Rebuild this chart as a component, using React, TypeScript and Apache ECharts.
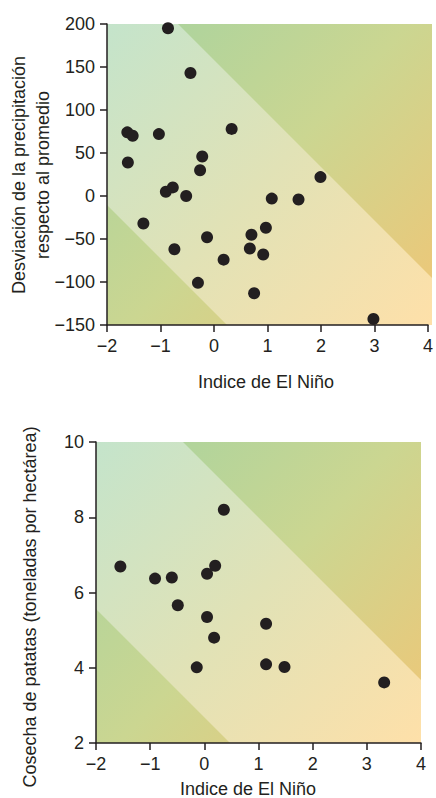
import React, { useEffect, useRef } from "react";
import * as echarts from "echarts";

// ---- Data ----
const precipNino = [-0.86, -0.44, -1.62, -1.52, -1.03, 0.33, -1.61, -0.22, -0.26, 1.99, -0.9, -0.77, -0.52, 1.08, 1.58, -1.32, -0.13, -0.74, 0.7, 0.97, 0.67, 0.92, 0.18, -0.3, 0.75, 2.98];
const precipDev = [195, 143, 74, 70, 72, 78, 39, 46, 30, 22, 5, 10, 0, -3, -4, -32, -48, -62, -45, -37, -61, -68, -74, -101, -113, -143];

const potatoNino = [-1.55, -0.91, -0.6, 0.05, 0.2, 0.36, -0.49, 0.05, 1.14, 0.18, -0.14, 1.14, 1.48, 3.32];
const potatoYield = [6.69, 6.37, 6.4, 6.5, 6.71, 8.2, 5.66, 5.35, 5.17, 4.8, 4.01, 4.09, 4.02, 3.61];

const xTitle = "Indice de El Niño";
const yTitleTop = "Desviación de la precipitación\nrespecto al promedio";
const yTitleBottom = "Cosecha de patatas (toneladas por hectárea)";

const FONT = "'Liberation Sans', Arial, Helvetica, sans-serif";
const INK = "#231f20";

const grids = [
  { left: 107, top: 24, width: 325, height: 301, upper: 71, lower: 181 },
  { left: 96, top: 442, width: 325, height: 301, upper: 87, lower: 167 },
];

const fmt = (v: number) => String(v).replace("-", "\u2212");

function bandGraphics(g: typeof grids[number]) {
  const { left: L, top: T, width: W, height: H, upper: u, lower: lo } = g;
  const outer = {
    type: "linear", x: L, y: T, x2: L + W, y2: T + H, global: true,
    colorStops: [
      { offset: 0, color: "#a6d3a0" },
      { offset: 0.5, color: "#cbd691" },
      { offset: 1, color: "#f0c676" },
    ],
  };
  const inner = {
    type: "linear", x: L, y: T, x2: L + W, y2: T + H, global: true,
    colorStops: [
      { offset: 0, color: "#c4e4cb" },
      { offset: 0.5, color: "#e1e2b6" },
      { offset: 1, color: "#fee0a9" },
    ],
  };
  return [
    {
      type: "rect", z: -2, silent: true,
      shape: { x: L, y: T, width: W, height: H },
      style: { fill: outer },
    },
    {
      type: "polygon", z: -1, silent: true,
      shape: {
        points: [
          [L, T], [L + u, T], [L + W, T + (W - u)], [L + W, T + H],
          [L + (H - lo), T + H], [L, T + lo],
        ],
      },
      style: { fill: inner },
    },
  ];
}

export default function App() {
  const ref = useRef<HTMLDivElement>(null);
  useEffect(() => {
    if (!ref.current) return;
    const chart = echarts.init(ref.current, null, { renderer: "svg" });
    const axisCommon = {
      axisLine: { show: true, onZero: false, lineStyle: { color: INK, width: 1.5 } },
      axisTick: { show: true, inside: false, length: 7, lineStyle: { color: INK, width: 1.5 } },
      axisLabel: { color: INK, fontSize: 18, fontFamily: FONT, margin: 12, formatter: fmt },
      splitLine: { show: false },
    };
    const titleStyle = { fill: INK, fontSize: 18, fontFamily: FONT, align: "center", verticalAlign: "middle" };
    chart.setOption({
      animation: false,
      grid: grids.map((g) => ({ left: g.left, top: g.top, width: g.width, height: g.height, containLabel: false })),
      xAxis: [
        { type: "value", gridIndex: 0, min: -2, max: 4, interval: 1, ...axisCommon },
        { type: "value", gridIndex: 1, min: -2, max: 4, interval: 1, ...axisCommon },
      ],
      yAxis: [
        { type: "value", gridIndex: 0, min: -150, max: 200, interval: 50, ...axisCommon },
        { type: "value", gridIndex: 1, min: 2, max: 10, interval: 2, ...axisCommon },
      ],
      graphic: [
        ...bandGraphics(grids[0]),
        ...bandGraphics(grids[1]),
        { type: "text", x: 266, y: 382, style: { ...titleStyle, text: xTitle } },
        { type: "text", x: 248, y: 789, style: { ...titleStyle, text: xTitle } },
        { type: "text", x: 31, y: 175, rotation: Math.PI / 2, style: { ...titleStyle, text: yTitleTop, lineHeight: 24 } },
        { type: "text", x: 30, y: 607, rotation: Math.PI / 2, style: { ...titleStyle, text: yTitleBottom } },
      ],
      series: [
        {
          type: "scatter", xAxisIndex: 0, yAxisIndex: 0, symbolSize: 12,
          itemStyle: { color: INK, opacity: 1 },
          data: precipNino.map((x, i) => [x, precipDev[i]]),
        },
        {
          type: "scatter", xAxisIndex: 1, yAxisIndex: 1, symbolSize: 12,
          itemStyle: { color: INK, opacity: 1 },
          data: potatoNino.map((x, i) => [x, potatoYield[i]]),
        },
      ],
    });
    return () => chart.dispose();
  }, []);
  return <div ref={ref} style={{ position: "absolute", left: 0, top: 0, width: 436, height: 798 }} />;
}
